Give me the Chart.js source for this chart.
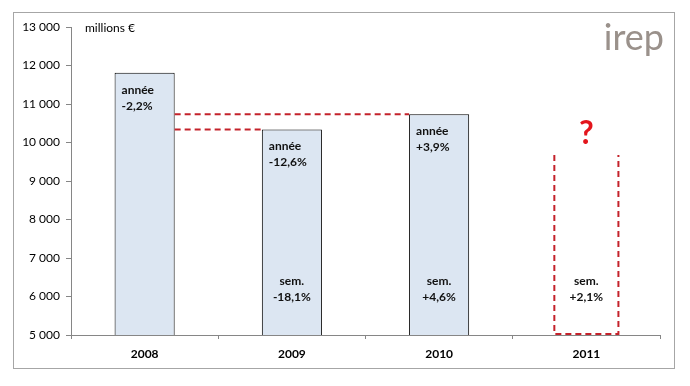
<!DOCTYPE html>
<html>
<head>
<meta charset="utf-8">
<script src="https://cdn.jsdelivr.net/npm/chart.js@4.4.0/dist/chart.umd.min.js"></script>
<style>
  html, body { margin: 0; padding: 0; background: #fff; }
  canvas { display: block; }
</style>
</head>
<body>
<canvas id="chart" width="690" height="386"></canvas>
<script>
// values (millions €)
const years = ['2008', '2009', '2010', '2011'];
const revenue = [11810, 10340, 10735, 9675];
const yearChange = ['-2,2%', '-12,6%', '+3,9%', null];
const halfChange = [null, '-18,1%', '+4,6%', '+2,1%'];
const yMin = 5000;
const yMax = 13000;
const yStep = 1000;

const FONT = 'Lato, "Open Sans", sans-serif';
const RED = '#c4222b';

// frame, unit label and logo
const decorPlugin = {
  id: 'decor',
  beforeDraw(chart) {
    const ctx = chart.ctx;
    ctx.save();
    ctx.fillStyle = '#fff';
    ctx.fillRect(0, 0, chart.width, chart.height);
    ctx.strokeStyle = '#a6a6a6';
    ctx.lineWidth = 1;
    ctx.strokeRect(13.5, 12.5, 661, 356);
    ctx.restore();
  },
  afterDraw(chart) {
    const ctx = chart.ctx;
    ctx.save();
    ctx.fillStyle = '#000';
    ctx.font = '12px ' + FONT;
    ctx.textBaseline = 'middle';
    ctx.fillText('millions €', 85, 28);
    ctx.fillStyle = '#9a918b';
    ctx.font = '36px ' + FONT;
    ctx.textAlign = 'right';
    ctx.textBaseline = 'alphabetic';
    ctx.fillText('irep', 664, 50);
    ctx.restore();
  },
};

// 2011 forecast outline, connectors and the bar texts
const annotatePlugin = {
  id: 'annotate',
  afterDatasetsDraw(chart) {
    const ctx = chart.ctx;
    const bars = chart.getDatasetMeta(0).data;
    const y = chart.scales.y;
    const edge = (i, side) => bars[i].x + side * bars[i].width / 2;

    ctx.save();
    ctx.strokeStyle = RED;
    ctx.lineWidth = 2;
    ctx.setLineDash([6, 4]);

    // connectors from 2008 towards 2009 and 2010 levels
    const y09 = y.getPixelForValue(revenue[1]);
    const y10 = y.getPixelForValue(revenue[2]);
    ctx.beginPath();
    ctx.moveTo(edge(0, 1), y10);
    ctx.lineTo(edge(2, -1), y10);
    ctx.moveTo(edge(0, 1), y09);
    ctx.lineTo(edge(1, -1), y09);
    ctx.stroke();

    // open dashed box for 2011
    const b = bars[3];
    const l = b.x - b.width / 2 - 2;
    const r = b.x + b.width / 2 + 2;
    const bottom = y.getPixelForValue(yMin) - 1;
    ctx.beginPath();
    ctx.moveTo(l, b.y);
    ctx.lineTo(l, bottom);
    ctx.lineTo(r, bottom);
    ctx.lineTo(r, b.y);
    ctx.stroke();
    ctx.setLineDash([]);

    ctx.fillStyle = '#e3151c';
    ctx.font = 'bold 32px ' + FONT;
    ctx.textAlign = 'center';
    ctx.textBaseline = 'alphabetic';
    ctx.fillText('?', b.x, 144);

    ctx.fillStyle = '#111';
    ctx.font = 'bold 12px ' + FONT;
    ctx.textBaseline = 'middle';
    bars.forEach((bar, i) => {
      if (yearChange[i]) {
        ctx.textAlign = 'left';
        const x = bar.x - bar.width / 2 + 7;
        ctx.fillText('année', x, bar.y + 17);
        ctx.fillText(yearChange[i], x, bar.y + 33);
      }
      if (halfChange[i]) {
        ctx.textAlign = 'center';
        const base = y.getPixelForValue(yMin);
        ctx.fillText('sem.', bar.x, base - 54);
        ctx.fillText(halfChange[i], bar.x, base - 38);
      }
    });
    ctx.restore();
  },
};

new Chart(document.getElementById('chart'), {
  type: 'bar',
  data: {
    labels: years,
    datasets: [
      {
        data: revenue,
        backgroundColor: ['#dce6f2', '#dce6f2', '#dce6f2', 'rgba(0,0,0,0)'],
        borderColor: ['#000', '#000', '#000', 'rgba(0,0,0,0)'],
        borderWidth: 1,
        borderSkipped: 'bottom',
        categoryPercentage: 1,
        barPercentage: 0.408,
      },
    ],
  },
  options: {
    responsive: false,
    animation: false,
    layout: { padding: { left: 0, right: 30, top: 27, bottom: 0 } },
    plugins: { legend: { display: false }, tooltip: { enabled: false } },
    scales: {
      x: {
        afterFit: (s) => { s.height = 51; },
        grid: { drawOnChartArea: false, tickLength: 4, color: '#868686' },
        border: { color: '#868686' },
        ticks: { color: '#000', padding: 8, font: { family: FONT, size: 12, weight: 'bold' } },
      },
      y: {
        min: yMin,
        max: yMax,
        afterFit: (s) => { s.width = 71; },
        grid: { drawOnChartArea: false, tickLength: 5, color: '#868686' },
        border: { color: '#868686' },
        ticks: {
          stepSize: yStep,
          color: '#000',
          padding: 6,
          font: { family: FONT, size: 12 },
          callback: (v) => String(v).replace(/\B(?=(\d{3})+(?!\d))/g, ' '),
        },
      },
    },
  },
  plugins: [decorPlugin, annotatePlugin],
});
</script>
</body>
</html>
